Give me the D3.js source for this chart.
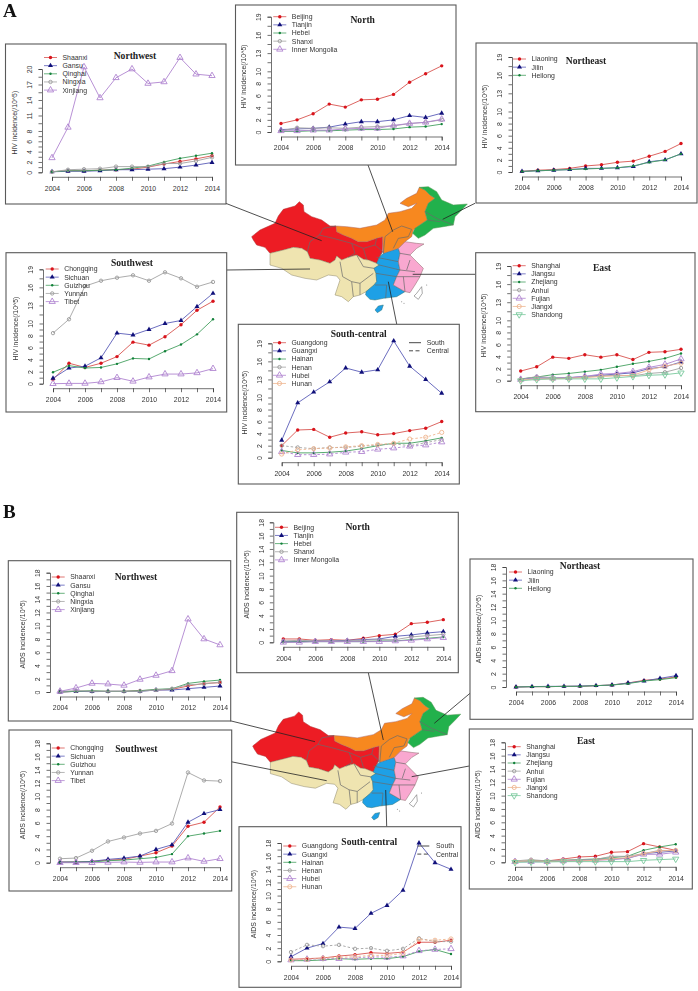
<!DOCTYPE html>
<html><head><meta charset="utf-8">
<script src="https://cdn.jsdelivr.net/npm/d3@7"></script>
<style>html,body{margin:0;padding:0;background:#fff}svg{display:block;filter:blur(.45px)}</style>
</head><body><svg id="c" width="698" height="991"></svg>
<script>
const years=[2004,2005,2006,2007,2008,2009,2010,2011,2012,2013,2014];
// Panel A: HIV incidence
const hivShaanxi=[.1,.3,.3,.4,.5,.6,1.0,1.6,2.1,2.6,3.2];
const hivGansu=[.1,.2,.2,.3,.5,.5,.6,.7,1.0,1.4,1.9];
const hivQinghai=[.1,.3,.3,.4,.5,.8,1.2,2.0,2.7,3.2,3.7];
const hivNingxia=[.1,.5,.6,.7,1.1,1.1,1.1,1.7,1.7,2.2,2.9];
const hivXinjiang=[2.8,8.7,20.4,14.4,18.3,20,17.2,17.5,22.2,19,18.7];
const hivBeijing=[1.4,2.0,3.0,4.6,4.1,5.3,5.4,6.2,8.2,9.6,10.9];
const hivTianjin=[.4,.5,.6,.8,1.3,1.7,1.7,2.0,2.7,2.4,3.1];
const hivHebei=[.1,.1,.2,.2,.3,.4,.4,.5,.8,.9,1.3];
const hivShanxi=[.2,.7,.6,.7,.6,.8,.9,1.0,1.4,1.6,2.0];
const hivInnerMongolia=[.2,.2,.3,.3,.5,.6,.6,1.1,1.4,1.6,2.1];
const hivLiaoning=[.1,.3,.4,.6,1.0,1.2,1.6,1.8,2.6,3.4,4.7];
const hivJilin=[.1,.2,.3,.4,.6,.6,.7,.9,1.7,2.0,3.0];
const hivHeilong=[.1,.2,.3,.4,.5,.6,.7,1.0,1.6,2.0,3.0];
const hivChongqing=[.7,3.4,2.7,3.4,4.5,6.9,6.4,7.8,9.8,12.2,13.7];
const hivSichuan=[.9,2.6,2.9,4.3,8.4,8.1,9,10,10.5,12.8,15];
const hivGuizhou=[1.9,3.0,2.6,2.7,3.3,4.2,4.1,5.4,6.5,8.2,10.7];
const hivYunnan=[8.4,10.7,16.2,17.1,17.6,18.0,17.1,18.5,17.5,16.1,16.9];
const hivTibet=[0,.05,.05,.3,1.0,.4,1.1,1.6,1.6,1.8,2.5];
const hivGuangdong=[2.0,4.6,4.7,3.4,4.1,4.3,3.8,4.0,4.5,4.9,6.0];
const hivGuangxi=[2.9,9.1,10.9,12.6,14.9,14.2,14.6,19.4,15.2,13,10.7];
const hivHainan=[1.2,.8,.8,.9,1.1,1.5,2.0,2.4,2.4,2.8,3.3];
const hivHenan=[2.0,1.7,1.5,1.7,1.7,1.9,2.1,2.3,2.0,2.5,3.0];
const hivHubei=[1.0,.5,.5,.6,.9,1.0,1.4,1.6,1.9,2.1,2.6];
const hivHunan=[.6,1.3,1.5,1.6,1.8,2.0,2.2,2.4,3.1,3.4,4.2];
const hivShanghai=[1.6,2.3,3.9,3.7,4.3,3.9,4.3,3.5,4.7,4.8,5.2];
const hivJiangsu=[.3,.5,.4,.5,.7,.9,1.1,1.3,2.0,2.3,3.1];
const hivZhejiang=[.3,.6,1.0,1.2,1.5,1.8,2.3,2.8,3.2,3.7,4.5];
const hivAnhui=[.2,.7,.5,.5,.6,.8,.9,.8,1.2,1.4,2.1];
const hivFujian=[.2,.4,.4,.5,.7,1.1,1.2,1.5,2.2,2.7,3.6];
const hivJiangxi=[.1,.3,.3,.4,.5,.7,.8,.9,1.8,2.4,2.9];
const hivShandong=[0,.2,.3,.3,.3,.3,.5,.7,.9,1.0,1.3];
// Panel B: AIDS incidence
const aidsShaanxi=[0,.1,.1,.1,.1,.2,.3,.4,.9,1.3,1.4];
const aidsGansu=[0,.1,.05,.1,.1,.1,.3,.3,.5,.7,.9];
const aidsQinghai=[0,.1,.2,.1,.1,.2,.4,.5,1.3,1.6,1.8];
const aidsNingxia=[.1,.2,.1,.1,.1,.1,.3,.5,1.1,1.2,1.5];
const aidsXinjiang=[.1,.6,1.3,1.2,1.0,1.9,2.5,3.2,11.0,8.0,7.1];
const aidsBeijing=[.5,.5,.3,.4,.3,.6,1,1.2,2.8,3,3.4];
const aidsTianjin=[.1,.1,.2,.2,.3,.4,.5,.9,1.1,1.4,1.6];
const aidsHebei=[0,.1,.1,.1,.1,.1,.2,.2,.4,.6,.8];
const aidsShanxi=[.2,.3,.2,.2,.2,.3,.4,.4,.8,1,1.2];
const aidsInnerMongolia=[0,0,.1,.1,.1,.1,.1,.2,.3,.5,.7];
const aidsLiaoning=[0,.05,.05,.1,.1,.2,.3,.6,1.0,1.2,1.5];
const aidsJilin=[0,.05,.1,.1,.15,.2,.3,.6,.9,1.3,1.7];
const aidsHeilong=[0,.05,.05,.1,.1,.2,.3,.5,.9,1.1,1.4];
const aidsChongqing=[.1,.1,.2,.4,.5,1.0,1.5,2.5,5.5,6.1,8.4];
const aidsSichuan=[.1,.1,.2,.5,.7,1.0,2.0,2.7,6.1,7.4,8.0];
const aidsGuizhou=[.05,.1,.1,.3,.4,.6,.8,1.3,4.0,4.4,4.8];
const aidsYunnan=[.6,.7,1.8,3.2,3.8,4.4,4.8,5.9,13.6,12.4,12.3];
const aidsTibet=[0,0,0,.05,.1,.05,.1,.1,.7,.2,.6];
const aidsGuangdong=[.3,.4,.5,.8,1.0,1.3,1.2,1.4,2.9,2.9,3.2];
const aidsGuangxi=[.7,2.0,2.7,5.2,5.0,7.3,8.5,10.8,18,15,14];
const aidsHainan=[.1,.1,.2,.4,.3,.4,.4,.7,1.5,1.8,1.1];
const aidsHenan=[1.4,2.5,2.3,2.5,1.9,2.0,1.6,1.9,3.5,3.0,3.0];
const aidsHubei=[.2,.3,.4,.4,.5,.7,.6,.8,1.6,1.8,1.9];
const aidsHunan=[.2,.3,.5,.6,.7,.9,.9,1.2,3.3,3.2,3.4];
const aidsShanghai=[.1,.2,.2,.5,.8,.9,1.5,1.6,2.8,2.3,1.8];
const aidsJiangsu=[.1,.1,.1,.2,.3,.4,.5,.6,1.3,1.5,1.7];
const aidsZhejiang=[.1,.2,.2,.3,.4,.5,.7,.9,1.8,2.3,2.7];
const aidsAnhui=[.2,.4,.2,.3,.4,.4,.9,.9,1.3,1.8,1.7];
const aidsFujian=[.1,.1,.1,.2,.3,.3,.4,.6,1.2,1.2,1.5];
const aidsJiangxi=[.1,.2,.1,.2,.2,.3,.5,.7,1.3,1.7,1.8];
const aidsShandong=[0,.05,.05,.1,.1,.1,.1,.1,.3,.4,.5];

const ticksA=[0,2,4,6,8,10,13,16,19];
const ticksANW=[0,2,4,6,8,11,14,17,20];
const ticksB=[0,2,4,6,8,10,12,14,16,18];
const xTickLabels=[2004,2006,2008,2010,2012,2014];

const names={NW:["Shaanxi","Gansu","Qinghai","Ningxia","Xinjiang"],
 N:["Beijing","Tianjin","Hebei","Shanxi","Inner Mongolia"],
 NE:["Liaoning","Jilin","Heilong"],
 SW:["Chongqing","Sichuan","Guizhou","Yunnan","Tibet"],
 SC:["Guangdong","Guangxi","Hainan","Henan","Hubei","Hunan"],
 E:["Shanghai","Jiangsu","Zhejiang","Anhui","Fujian","Jiangxi","Shandong"]};
const hiv={NW:[hivShaanxi,hivGansu,hivQinghai,hivNingxia,hivXinjiang],N:[hivBeijing,hivTianjin,hivHebei,hivShanxi,hivInnerMongolia],NE:[hivLiaoning,hivJilin,hivHeilong],SW:[hivChongqing,hivSichuan,hivGuizhou,hivYunnan,hivTibet],SC:[hivGuangdong,hivGuangxi,hivHainan,hivHenan,hivHubei,hivHunan],E:[hivShanghai,hivJiangsu,hivZhejiang,hivAnhui,hivFujian,hivJiangxi,hivShandong]};
const aids={NW:[aidsShaanxi,aidsGansu,aidsQinghai,aidsNingxia,aidsXinjiang],N:[aidsBeijing,aidsTianjin,aidsHebei,aidsShanxi,aidsInnerMongolia],NE:[aidsLiaoning,aidsJilin,aidsHeilong],SW:[aidsChongqing,aidsSichuan,aidsGuizhou,aidsYunnan,aidsTibet],SC:[aidsGuangdong,aidsGuangxi,aidsHainan,aidsHenan,aidsHubei,aidsHunan],E:[aidsShanghai,aidsJiangsu,aidsZhejiang,aidsAnhui,aidsFujian,aidsJiangxi,aidsShandong]};

const styles=[
 {line:"#d8534f",mark:"#d9141c",sym:"dot"},
 {line:"#5a5cb8",mark:"#10107a",sym:"tri"},
 {line:"#45a060",mark:"#12813a",sym:"small"},
 {line:"#a3a3a3",mark:"#9a9a9a",sym:"ocircle"},
 {line:"#b084d0",mark:"#b084d0",sym:"otri"},
 {line:"#efb690",mark:"#efb690",sym:"ocircle2"},
 {line:"#78c89c",mark:"#78c89c",sym:"dtri"}];

const titles={NW:"Northwest",N:"North",NE:"Northeast",SW:"Southwest",SC:"South-central",E:"East"};
const panels=[
 {key:"NW",d:hiv,lab:"HIV",box:[5.5,44,226,204],x:[52,212],y:[172.3,20,69],ticks:ticksANW,leg:[44,57.5],t:[135,55.5]},
 {key:"N",d:hiv,lab:"HIV",box:[235.5,5,456,165],x:[281,441.7],y:[132,19,16.7],ticks:ticksA,leg:[273.3,16.7],t:[362.7,19.5]},
 {key:"NE",d:hiv,lab:"HIV",box:[476,43,697,203],x:[522,681],y:[172,19,57],ticks:ticksA,leg:[513,59],t:[586,61]},
 {key:"SW",d:hiv,lab:"HIV",box:[6,252.7,226.7,412],x:[53,213],y:[383.7,19,269.3],ticks:ticksA,leg:[45.7,269],t:[132,262.7]},
 {key:"SC",d:hiv,lab:"HIV",box:[238.3,324.3,459.3,484],x:[281.7,441.7],y:[457.7,19,343.3],ticks:ticksA,leg:[273,342.7],t:[358.7,333.3],leg2:[409,426.7,342.7]},
 {key:"E",d:hiv,lab:"HIV",box:[475.7,252.7,695,411.7],x:[520.7,681],y:[380.7,19,266],ticks:ticksA,leg:[512.7,265.7],t:[602,268]},
 {key:"NW",d:aids,lab:"AIDS",box:[8.3,560.7,230.7,721],x:[60,220],y:[692,18,572.7],ticks:ticksB,leg:[51.7,577],t:[136,577]},
 {key:"N",d:aids,lab:"AIDS",box:[236.7,512.3,458.3,672.7],x:[283.3,443.3],y:[642.3,18,522.3],ticks:ticksB,leg:[275,527.3],t:[357.7,526.7]},
 {key:"NE",d:aids,lab:"AIDS",box:[470,559,693,719.3],x:[516,676],y:[687,18,567],ticks:ticksB,leg:[509,572],t:[580,566]},
 {key:"SW",d:aids,lab:"AIDS",box:[9,730,231.7,891],x:[60,220],y:[862.7,18,743.3],ticks:ticksB,leg:[51.7,748],t:[136.3,748.7]},
 {key:"SC",d:aids,lab:"AIDS",box:[239,826.7,461,987.3],x:[291,451],y:[961.3,18,843],ticks:ticksB,leg:[283.3,846],t:[369.3,841.7],leg2:[417.3,436,846]},
 {key:"E",d:aids,lab:"AIDS",box:[469.3,729,692.3,889],x:[515,675.7],y:[862.3,18,742.3],ticks:ticksB,leg:[507.7,746.7],t:[586,740.7]}
];

// Map outlines, in map units
const mapRed=[[95,200],[120,180],[165,160],[175,138],[190,118],[225,108],[238,95],[250,105],[252,125],[275,140],[305,150],[330,168],[348,168],[350,185],[370,195],[395,205],[415,215],[440,215],[470,205],[488,200],[487,245],[478,262],[470,280],[445,270],[430,268],[410,255],[385,262],[365,270],[350,258],[345,270],[330,280],[300,270],[270,265],[262,245],[245,235],[220,232],[190,240],[150,250],[135,232],[110,225],[100,210]];
const mapOrange=[[348,168],[380,170],[420,175],[470,165],[495,150],[505,130],[540,125],[575,115],[590,100],[565,110],[540,100],[560,85],[590,70],[598,52],[615,60],[630,75],[645,85],[625,100],[615,125],[622,150],[600,165],[580,180],[575,200],[555,215],[535,235],[490,250],[488,200],[470,205],[440,215],[415,215],[395,205],[370,195],[350,185]];
const mapGreen=[[598,52],[625,50],[650,65],[665,90],[700,105],[742,102],[725,120],[705,140],[700,165],[670,170],[640,175],[615,195],[595,205],[578,190],[585,175],[600,165],[622,150],[615,125],[625,100],[645,85],[630,75],[615,60]];
const mapTan=[[150,250],[190,240],[220,232],[245,235],[262,245],[270,265],[300,270],[330,280],[345,270],[350,258],[365,270],[385,262],[410,255],[430,268],[445,270],[470,280],[478,285],[462,295],[468,310],[470,335],[462,345],[438,365],[420,375],[400,380],[385,395],[365,380],[345,375],[360,330],[350,318],[325,315],[290,330],[255,325],[215,315],[185,295],[150,285]];
const mapBlue=[[478,262],[490,250],[535,235],[540,250],[535,275],[540,300],[530,320],[520,345],[555,365],[530,380],[490,385],[465,390],[450,388],[437,375],[438,365],[462,345],[470,335],[468,310],[462,295],[478,285],[470,280]];
const mapHainan=[[465,420],[475,408],[490,405],[485,420],[472,428]];
const mapPink=[[535,235],[555,215],[590,220],[612,222],[590,235],[570,255],[590,275],[610,295],[600,320],[585,345],[570,368],[555,365],[520,345],[530,320],[540,300],[535,275],[540,250]];
const mapTaiwan=[[590,370],[605,350],[607,370],[595,388],[582,378]];
const mapBorders=[
 [[348,168],[310,175],[298,195],[270,215],[262,245]],[[298,195],[340,205],[395,220],[405,250],[385,262]],
 [[395,220],[430,235],[440,268]],[[430,235],[465,225],[470,205]],[[465,225],[488,245],[478,262]],
 [[520,180],[545,168],[575,178],[565,200],[535,205],[520,235]],[[520,180],[495,200],[490,250]],
 [[615,125],[650,145],[700,165]],[[622,150],[660,155]],
 [[360,275],[368,320],[395,335],[420,340],[460,310]],[[395,335],[400,380]],[[420,340],[420,375]],[[410,255],[430,290],[462,295]],
 [[478,285],[540,300]],[[468,310],[530,320]],[[465,345],[500,345],[497,385]],[[470,262],[535,275]],
 [[540,250],[570,255]],[[540,300],[585,305]],[[530,320],[600,320]],[[550,320],[555,365]],[[570,270],[560,300]]];
const mapIslands=[[545,395],[552,400],[620,345]];

const svg=d3.select("#c");
const gray="#333";
const maps=[
 {sx:d3.scaleLinear().domain([0,780]).range([220,480]),sy:d3.scaleLinear().domain([0,480]).range([170,330])},
 {sx:d3.scaleLinear().domain([95,745]).range([252.7,461.7]),sy:d3.scaleLinear().domain([50,428]).range([697.3,820])}];
const links=[
 [[225,203],[321.7,240.7]],[[368,165],[392.7,231.7]],[[475,203.3],[442.7,219.3]],[[226.7,270],[310,269]],[[475,274.3],[412.7,274.3]],[[396.7,324],[388.3,281.7]],
 [[230,720.7],[315,741.7]],[[368.3,672.7],[383.3,740]],[[470,693.3],[434.3,723.3]],[[231,761.7],[326.7,780.7]],[[469.3,766],[411.7,776.7]],[[386.7,826.7],[385.7,790]]];

maps.forEach(m=>{
 const g=svg.append("g");
 const L=d3.line().x(d=>m.sx(d[0])).y(d=>m.sy(d[1]));
 const poly=(p,fill,stroke)=>g.append("path").attr("d",L(p)+"Z").attr("fill",fill).attr("stroke",stroke).attr("stroke-width",.5);
 poly(mapRed,"#ed1c24","#a33");
 poly(mapTan,"#efe4b0","#8a8468");
 poly(mapBlue,"#1ea0e6","#377");
 poly(mapPink,"#f9a8d0","#866");
 poly(mapOrange,"#f7881f","#a66");
 poly(mapGreen,"#22b14c","#595");
 poly(mapHainan,"#1ea0e6","#377");
 poly(mapTaiwan,"#fff","#555");
 mapBorders.forEach(b=>g.append("path").attr("d",L(b)).attr("fill","none").attr("stroke","#6a6a6a").attr("stroke-width",.7));
 mapIslands.forEach(p=>g.append("circle").attr("cx",m.sx(p[0])).attr("cy",m.sy(p[1])).attr("r",.5).attr("fill","#777"));
});
links.forEach(l=>svg.append("line").attr("x1",l[0][0]).attr("y1",l[0][1]).attr("x2",l[1][0]).attr("y2",l[1][1]).attr("stroke","#222").attr("stroke-width",.8));

function marker(g,st,x,y){
 const s=st.sym;
 if(s==="dot")g.append("circle").attr("cx",x).attr("cy",y).attr("r",1.7).attr("fill",st.mark);
 else if(s==="small")g.append("circle").attr("cx",x).attr("cy",y).attr("r",1.2).attr("fill",st.mark);
 else if(s==="ocircle"||s==="ocircle2")g.append("circle").attr("cx",x).attr("cy",y).attr("r",s==="ocircle"?1.7:2.1).attr("fill","none").attr("stroke",st.mark).attr("stroke-width",.9);
 else{
  const size=s==="tri"?11:17;
  g.append("path").attr("d",d3.symbol().type(d3.symbolTriangle).size(size)())
   .attr("transform",`translate(${x},${y})`+(s==="dtri"?" rotate(180)":""))
   .attr("fill",s==="tri"?st.mark:"none").attr("stroke",s==="tri"?"none":st.mark).attr("stroke-width",.9);
 }
}

panels.forEach(p=>{
 const g=svg.append("g");
 const [bx0,by0,bx1,by1]=p.box;
 g.append("rect").attr("x",bx0).attr("y",by0).attr("width",bx1-bx0).attr("height",by1-by0).attr("fill","#fff").attr("stroke","#5a5a5a").attr("stroke-width",1.1);
 const xs=d3.scaleLinear().domain([2004,2014]).range(p.x);
 const ys=d3.scaleLinear().domain([0,p.y[1]]).range([p.y[0],p.y[2]]);
 const minor=[];
 for(let i=0;i<p.ticks.length;i++){minor.push(p.ticks[i]);if(i<p.ticks.length-1){const a=p.ticks[i],b=p.ticks[i+1];minor.push((a+b)/2);}}
 const axL=d3.axisLeft(ys).tickValues(minor).tickSize(3.5).tickPadding(1.5).tickFormat(v=>p.ticks.includes(v)?v:"");
 const ya=g.append("g").attr("transform",`translate(${p.x[0]-10},0)`).call(axL);
 ya.selectAll("text").attr("transform","translate(-12,0) rotate(-90)")
   .attr("x",0).attr("y",0).attr("dy",".35em").attr("text-anchor","middle");
 const axB=d3.axisBottom(xs).tickValues(years).tickSize(4).tickPadding(5).tickFormat(v=>xTickLabels.includes(v)?v:"");
 const xa=g.append("g").attr("transform",`translate(0,${p.y[0]+4.5})`).call(axB);
 [ya,xa].forEach(a=>{a.selectAll("path").attr("stroke","#333").attr("stroke-width",.7);a.selectAll("line").attr("stroke","#333").attr("stroke-width",.7);
  a.selectAll("text").attr("font-family","Liberation Sans").attr("font-size",6.9).attr("fill",gray);});
 g.append("text").attr("transform",`translate(${p.x[0]-37},${(ys(0)+ys(p.y[1]))/2+2}) rotate(-90)`).attr("text-anchor","middle").attr("dy",".35em")
  .attr("font-family","Liberation Sans").attr("font-size",6.9).attr("fill",gray).text(p.lab+" incidence(/10^5)");
 g.append("text").attr("x",p.t[0]).attr("y",p.t[1]).attr("dy",".35em").attr("text-anchor","middle").attr("font-family","Liberation Serif").attr("font-weight","bold").attr("font-size",9.6).attr("fill","#222").text(titles[p.key]);

 const isSC=p.key==="SC";
 const line=d3.line().x((d,i)=>xs(years[i])).y(d=>ys(d));
 p.d[p.key].forEach((vals,i)=>{
  const st=styles[i];
  g.append("path").attr("d",line(vals)).attr("fill","none").attr("stroke",st.line).attr("stroke-width",.9)
   .attr("stroke-dasharray",isSC&&i>=3?"2.5,2":null);
  vals.forEach((v,k)=>marker(g,st,xs(years[k]),ys(v)));
 });
 names[p.key].forEach((n,i)=>{
  const y=p.leg[1]+i*8.15, st=styles[i];
  g.append("line").attr("x1",p.leg[0]).attr("x2",p.leg[0]+13).attr("y1",y).attr("y2",y).attr("stroke",st.line).attr("stroke-width",.8);
  marker(g,st,p.leg[0]+6.5,y);
  g.append("text").attr("x",p.leg[0]+18.5).attr("y",y).attr("dy",".35em").attr("font-family","Liberation Sans").attr("font-size",6.9).attr("fill",gray).text(n);
 });
 if(p.leg2){
  ["South","Central"].forEach((n,i)=>{
   const y=p.leg2[2]+i*8.1;
   g.append("line").attr("x1",p.leg2[0]).attr("x2",p.leg2[0]+12).attr("y1",y).attr("y2",y).attr("stroke","#333").attr("stroke-width",.9).attr("stroke-dasharray",i?"4,2.5":null);
   g.append("text").attr("x",p.leg2[1]).attr("y",y).attr("dy",".35em").attr("font-family","Liberation Sans").attr("font-size",6.9).attr("fill",gray).text(n);
  });
 }
});
[["A",3,17],["B",3,518]].forEach(t=>svg.append("text").attr("x",t[1]).attr("y",t[2]).attr("font-family","Liberation Serif").attr("font-weight","bold").attr("font-size",19).attr("fill","#111").text(t[0]));
</script></body></html>
